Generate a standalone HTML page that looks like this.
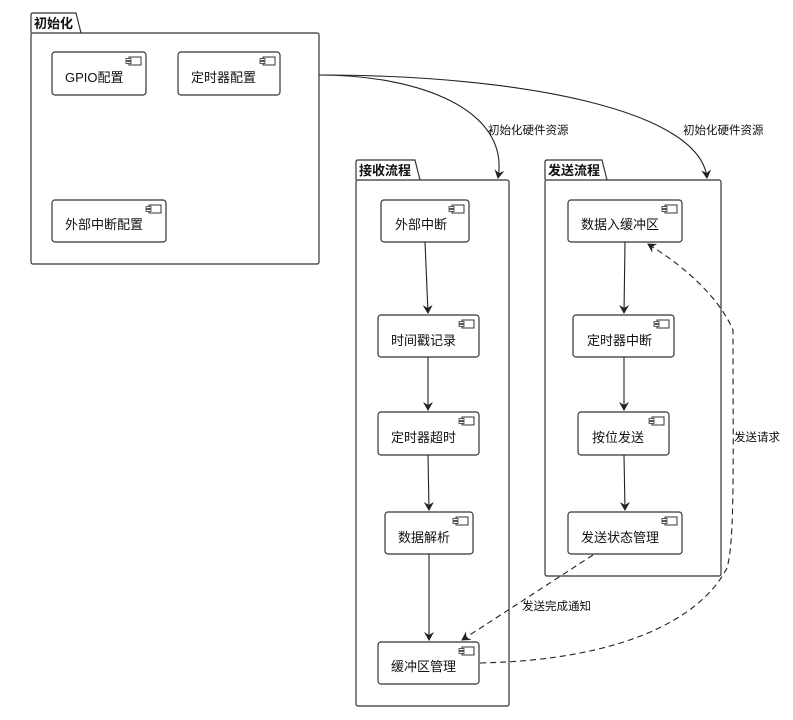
<!DOCTYPE html>
<html><head><meta charset="utf-8"><style>
body{margin:0;background:#fff;}
svg{display:block;font-family:"Liberation Sans","Noto Sans CJK SC",sans-serif;}
</style></head><body>
<svg width="793" height="720" viewBox="0 0 793 720" xmlns="http://www.w3.org/2000/svg">
<defs>
<marker id="a" markerWidth="10" markerHeight="10" refX="8" refY="5" orient="auto" markerUnits="userSpaceOnUse">
<path d="M0,0 L9,5 L0,10 L3,5 Z" fill="#222"/></marker>
<g id="ic"><rect x="3" y="0" width="12" height="8" fill="#fff" stroke="#333" stroke-width="1"/><rect x="0" y="1.5" width="5" height="2" fill="#fff" stroke="#333" stroke-width="0.8"/><rect x="0" y="4.5" width="5" height="2" fill="#fff" stroke="#333" stroke-width="0.8"/></g>
</defs>
<g fill="none" stroke="#333" stroke-width="1.2">
<path d="M31,33 L31,15 Q31,13 33,13 L76,13 L81,33"/>
<rect x="31" y="33" width="288" height="231" rx="2"/>
<path d="M356,180 L356,162 Q356,160 358,160 L415,160 L420,180"/>
<rect x="356" y="180" width="153" height="526" rx="2"/>
<path d="M545,180 L545,162 Q545,160 547,160 L602,160 L607,180"/>
<rect x="545" y="180" width="176" height="396" rx="2"/>
<rect x="52" y="52" width="94" height="43" rx="3"/>
<rect x="178" y="52" width="102" height="43" rx="3"/>
<rect x="52" y="200" width="114" height="42" rx="3"/>
<rect x="381" y="200" width="88" height="42" rx="3"/>
<rect x="378" y="315" width="101" height="42" rx="3"/>
<rect x="378" y="412" width="101" height="43" rx="3"/>
<rect x="385" y="512" width="88" height="42" rx="3"/>
<rect x="378" y="642" width="101" height="42" rx="3"/>
<rect x="568" y="200" width="114" height="42" rx="3"/>
<rect x="573" y="315" width="101" height="42" rx="3"/>
<rect x="578" y="412" width="91" height="43" rx="3"/>
<rect x="568" y="512" width="114" height="42" rx="3"/>
</g>
<use href="#ic" x="126" y="57"/><use href="#ic" x="260" y="57"/><use href="#ic" x="146" y="205"/>
<use href="#ic" x="449" y="205"/><use href="#ic" x="459" y="320"/><use href="#ic" x="459" y="417"/>
<use href="#ic" x="453" y="517"/><use href="#ic" x="459" y="647"/>
<use href="#ic" x="662" y="205"/><use href="#ic" x="654" y="320"/><use href="#ic" x="649" y="417"/><use href="#ic" x="662" y="517"/>
<g fill="none" stroke="#222" stroke-width="1.1">
<path d="M319,75 C420,75 510,110 498,178" marker-end="url(#a)"/>
<path d="M319,75 C520,75 700,110 707,178" marker-end="url(#a)"/>
<path d="M425,242 L428,313" marker-end="url(#a)"/>
<path d="M428,357 L428,410" marker-end="url(#a)"/>
<path d="M428,455 L429,510" marker-end="url(#a)"/>
<path d="M429,554 L429,640" marker-end="url(#a)"/>
<path d="M625,242 L624,313" marker-end="url(#a)"/>
<path d="M624,357 L624,410" marker-end="url(#a)"/>
<path d="M624,455 L625,510" marker-end="url(#a)"/>
<g stroke-dasharray="6,4">
<path d="M593,555 L462,640" marker-end="url(#a)"/>
<path d="M480,663 C620,660 700,620 727,568 C735,540 733,460 733,330 C720,300 690,270 648,244" marker-end="url(#a)"/>
</g>
</g>
<g font-size="13" fill="#111">
<text x="34" y="28" font-weight="bold">初始化</text>
<text x="359" y="175" font-weight="bold">接收流程</text>
<text x="548" y="175" font-weight="bold">发送流程</text>
<text x="65" y="82">GPIO配置</text>
<text x="191" y="82">定时器配置</text>
<text x="65" y="229">外部中断配置</text>
<text x="395" y="229">外部中断</text>
<text x="391" y="345">时间戳记录</text>
<text x="391" y="442">定时器超时</text>
<text x="398" y="542">数据解析</text>
<text x="391" y="671">缓冲区管理</text>
<text x="581" y="229">数据入缓冲区</text>
<text x="587" y="345">定时器中断</text>
<text x="592" y="442">按位发送</text>
<text x="581" y="542">发送状态管理</text>
<g font-size="11.5">
<text x="488" y="134">初始化硬件资源</text>
<text x="683" y="134">初始化硬件资源</text>
<text x="522" y="610">发送完成通知</text>
<text x="734" y="441">发送请求</text>
</g>
</g>
</svg>
</body></html>
